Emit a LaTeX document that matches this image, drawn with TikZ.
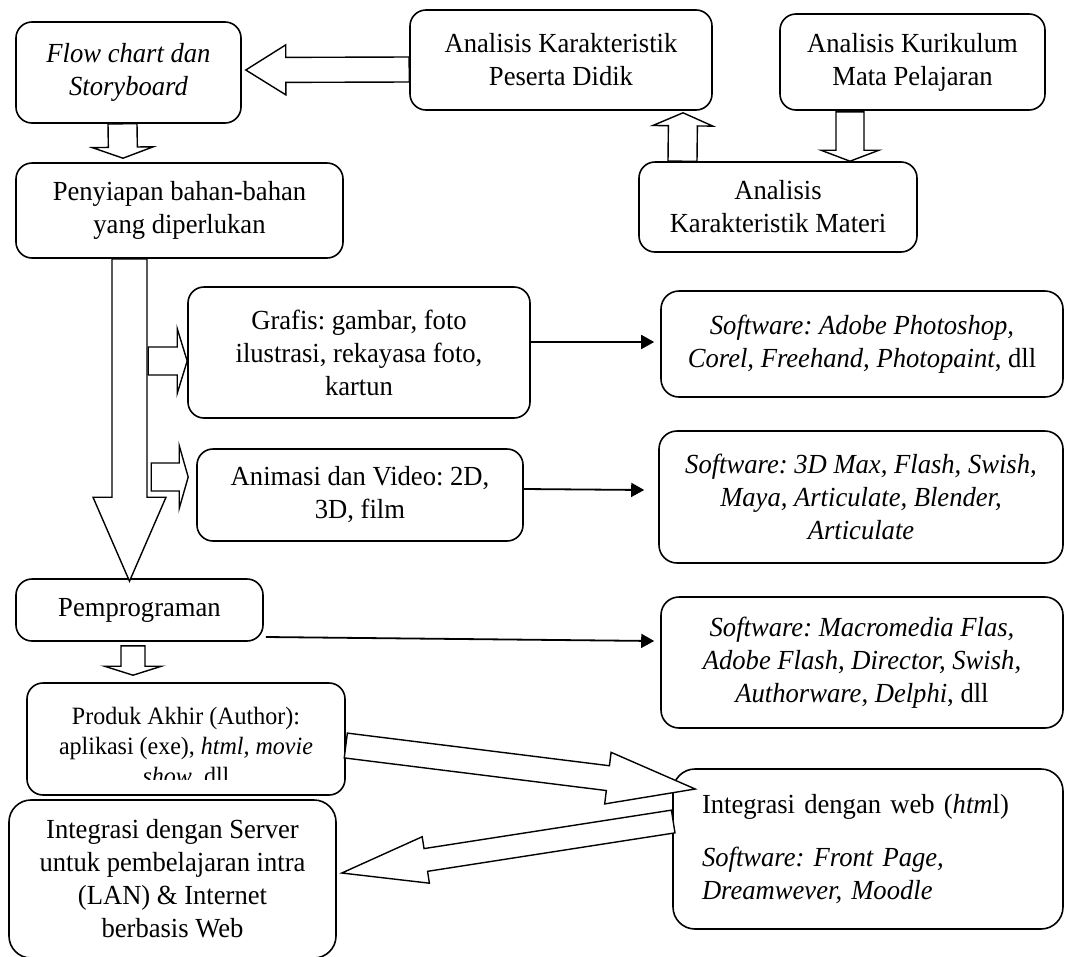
\documentclass[tikz,border=0pt]{standalone}
\usepackage{fontspec}
\setmainfont{Liberation Serif}[FakeStretch=0.964]
\usetikzlibrary{calc,arrows.meta}

% hollow block arrow: start, tip, shaft half width, head half width, head length
\newcommand\blockarrow[5]{%
  \coordinate (ba-h) at ($(#2)!#5!(#1)$);
  \draw[blockline]
    ($(#1)!#3!90:(#2)$) -- ($(ba-h)!#3!-90:(#1)$) -- ($(ba-h)!#4!-90:(#1)$) --
    (#2) --
    ($(ba-h)!#4!90:(#1)$) -- ($(ba-h)!#3!90:(#1)$) -- ($(#1)!#3!-90:(#2)$) -- cycle;
}

\begin{document}
\frenchspacing
\begin{tikzpicture}[x=1pt,y=-1pt,
  box/.style={draw, line width=1.6pt, rounded corners=16pt, align=center,
    inner sep=0pt, fill=white, font=\fontsize{27.6}{33}\selectfont},
  blockline/.style={draw, line width=1.4pt, fill=white, line join=miter},
  thinarrow/.style={line width=1.8pt, -{Triangle[length=13pt,width=14pt]}},
]
\useasboundingbox (0,0) rectangle (1065,956);
\clip (0,0) rectangle (1065,956);

% ---------- boxes ----------
\node[box, font=\fontsize{27.6}{33}\selectfont\itshape,
      minimum width=225pt, minimum height=101pt] (flow) at (128.5,72.5)
  {Flow chart dan\\Storyboard};
\node[box, minimum width=302pt, minimum height=100pt] (peserta) at (561,60)
  {Analisis Karakteristik\\Peserta Didik};
\node[box, minimum width=265pt, minimum height=96pt] (kurikulum) at (912.5,62)
  {Analisis Kurikulum\\Mata Pelajaran};
\node[box, minimum width=278pt, minimum height=90pt] (materi) at (778,207)
  {Analisis\\Karakteristik Materi};
\node[box, minimum width=327pt, minimum height=95pt] (penyiapan) at (179.5,210.5)
  {Penyiapan bahan-bahan\\yang diperlukan};
\node[box, minimum width=342pt, minimum height=131pt] (grafis) at (359,352.5)
  {Grafis: gambar, foto\\ilustrasi, rekayasa foto,\\kartun};
\node[box, minimum width=326pt, minimum height=92pt] (animasi) at (360,495)
  {Animasi dan Video: 2D,\\3D, film};
\node[box, minimum width=247pt, minimum height=62pt] (pemrog) at (139.5,610)
  {Pemprograman};

% the last text line is cut off by the lower part of the box
\node[box, minimum width=318pt, minimum height=112pt] (produk) at (186,739) {};
\begin{scope}
  \clip (produk.north west) rectangle ($(produk.south east)+(0,-16)$);
  \node[align=center, inner sep=0pt, font=\fontsize{24.9}{30}\selectfont]
    (produktext) at (186,748)
    {Produk Akhir (Author):\\aplikasi (exe), \textit{html, movie}\\\textit{show}, dll};
\end{scope}

\node[box, rounded corners=22pt, minimum width=327pt, minimum height=158pt] (server) at (172.5,879)
  {Integrasi dengan Server\\untuk pembelajaran intra\\(LAN) \& Internet\\berbasis Web};

\node[box, rounded corners=18pt, minimum width=402pt, minimum height=106pt] (sw1) at (862,344)
  {\textit{Software: Adobe Photoshop,}\\\textit{Corel, Freehand, Photopaint}, dll};
\node[box, rounded corners=18pt, font=\fontsize{27.6}{33}\selectfont\itshape,
      minimum width=404pt, minimum height=132pt] (sw2) at (861,497)
  {Software: 3D Max, Flash, Swish,\\Maya, Articulate, Blender,\\Articulate};
\node[box, rounded corners=18pt, minimum width=402pt, minimum height=131pt] (sw3) at (862,662.5)
  {\textit{Software: Macromedia Flas,}\\\textit{Adobe Flash, Director, Swish,}\\\textit{Authorware, Delphi}, dll};
\node[box, rounded corners=22pt, align=left, text width=332pt, inner xsep=29pt,
      minimum height=160pt] (web) at (868,849)
  {Integrasi dengan web (\textit{htm}l)\\[20pt]\textit{Software: Front Page,}\\\textit{Dreamwever, Moodle}};

% ---------- hollow block arrows ----------
\coordinate (a1s) at ($(peserta.west)+(0,9.5)$);
\coordinate (a1e) at ($(flow.east)+(4,-2.5)$);
\blockarrow{a1s}{a1e}{12.5pt}{25pt}{40pt}

\coordinate (a2s) at ($(flow.south)+(-6,0)$);
\coordinate (a2e) at ($(penyiapan.north)+(-56.5,-4)$);
\blockarrow{a2s}{a2e}{14.5pt}{30.5pt}{11pt}

\coordinate (a3s) at ($(penyiapan.south)+(-50,0)$);
\coordinate (a3e) at ($(pemrog.north)+(-10,3)$);
\blockarrow{a3s}{a3e}{17.5pt}{36.5pt}{84pt}

\coordinate (a4s) at ($(grafis.west)+(-39,8.5)$);
\coordinate (a4e) at ($(grafis.west)+(0,8.5)$);
\blockarrow{a4s}{a4e}{14pt}{32.5pt}{10pt}

\coordinate (a5s) at ($(animasi.west)+(-45,-18)$);
\coordinate (a5e) at ($(animasi.west)+(-8,-18)$);
\blockarrow{a5s}{a5e}{14pt}{31.5pt}{9pt}

\coordinate (a6s) at ($(pemrog.south)+(-6.5,4)$);
\coordinate (a6e) at ($(produk.north)+(-53,-7)$);
\blockarrow{a6s}{a6e}{12pt}{28.5pt}{9pt}

\coordinate (a7s) at ($(materi.north)+(-95.5,0)$);
\coordinate (a7e) at ($(peserta.south)+(122,2)$);
\blockarrow{a7s}{a7e}{14.5pt}{30pt}{13pt}

\coordinate (a8s) at ($(kurikulum.south)+(-62.5,1)$);
\coordinate (a8e) at ($(materi.north)+(72,0)$);
\blockarrow{a8s}{a8e}{14pt}{29pt}{11pt}

\coordinate (a9s) at ($(produk.east)+(0,6.5)$);
\coordinate (a9e) at ($(web.west)+(23,-60)$);
\blockarrow{a9s}{a9e}{12.5pt}{26pt}{88pt}

\coordinate (a10s) at ($(web.west)+(1,-27.5)$);
\coordinate (a10e) at ($(server.east)+(5,-6)$);
\blockarrow{a10s}{a10e}{11.5pt}{23.5pt}{85pt}

% ---------- thin arrows to the software boxes ----------
\draw[thinarrow] ($(grafis.east)+(0,-10.5)$) -- ($(sw1.west)+(-6,-2)$);
\draw[thinarrow] ($(animasi.east)+(0,-6)$) -- ($(sw2.west)+(-14,-7)$);
\draw[thinarrow] ($(pemrog.east)+(2,27)$) -- ($(sw3.west)+(-6,-21.5)$);

\end{tikzpicture}
\end{document}
